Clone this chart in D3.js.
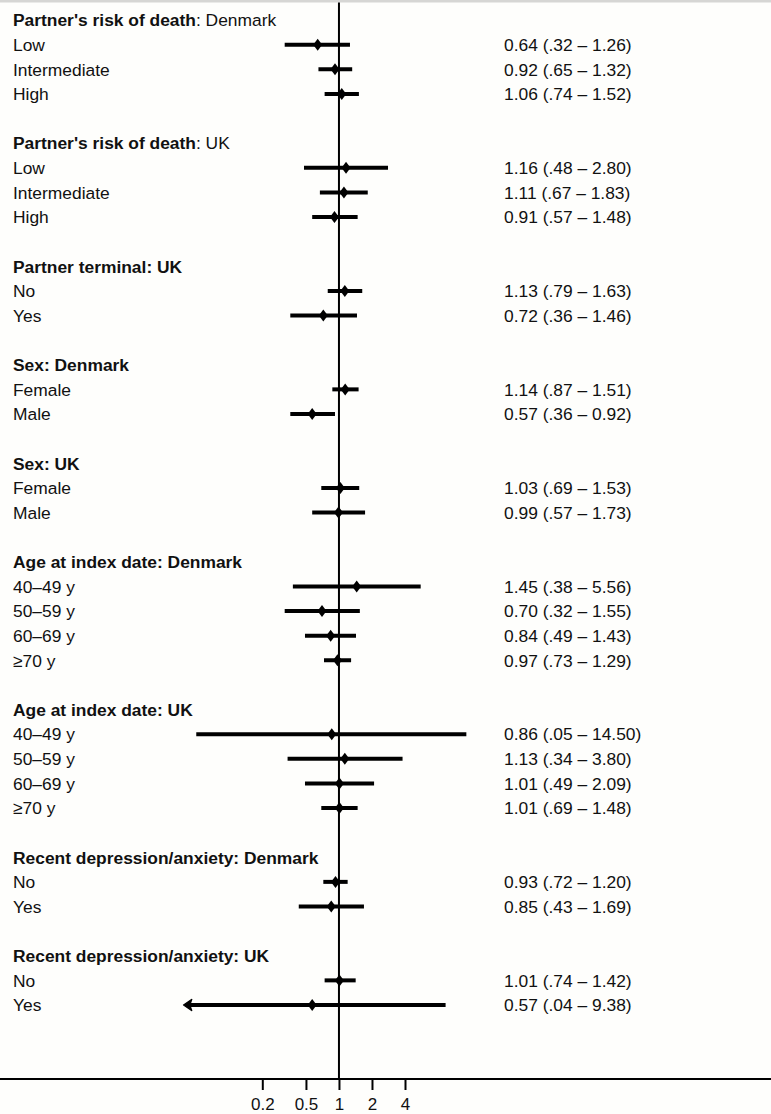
<!DOCTYPE html>
<html><head><meta charset="utf-8">
<script src="https://cdn.jsdelivr.net/npm/d3@7"></script>
<style>
html,body{margin:0;padding:0;background:#fefefc;}
svg{display:block;}
text{font-family:"Liberation Sans",Arial,Helvetica,sans-serif;font-size:17.4px;fill:#111;}
</style></head>
<body>
<svg id="c" width="771" height="1114"></svg>
<script>
// Groups: header (bold part, regular part)
const groupBold = ["Partner's risk of death","Partner's risk of death","Partner terminal: UK","Sex: Denmark","Sex: UK","Age at index date: Denmark","Age at index date: UK","Recent depression/anxiety: Denmark","Recent depression/anxiety: UK"];
const groupRegular = [": Denmark",": UK","","","","","","",""];
const rowLabels = [
  ["Low","Intermediate","High"],
  ["Low","Intermediate","High"],
  ["No","Yes"],
  ["Female","Male"],
  ["Female","Male"],
  ["40–49 y","50–59 y","60–69 y","≥70 y"],
  ["40–49 y","50–59 y","60–69 y","≥70 y"],
  ["No","Yes"],
  ["No","Yes"]
];
const estimates = [
  [0.64,0.92,1.06],
  [1.16,1.11,0.91],
  [1.13,0.72],
  [1.14,0.57],
  [1.03,0.99],
  [1.45,0.70,0.84,0.97],
  [0.86,1.13,1.01,1.01],
  [0.93,0.85],
  [1.01,0.57]
];
const lowerCI = [
  [0.32,0.65,0.74],
  [0.48,0.67,0.57],
  [0.79,0.36],
  [0.87,0.36],
  [0.69,0.57],
  [0.38,0.32,0.49,0.73],
  [0.05,0.34,0.49,0.69],
  [0.72,0.43],
  [0.74,0.04]
];
const upperCI = [
  [1.26,1.32,1.52],
  [2.80,1.83,1.48],
  [1.63,1.46],
  [1.51,0.92],
  [1.53,1.73],
  [5.56,1.55,1.43,1.29],
  [14.50,3.80,2.09,1.48],
  [1.20,1.69],
  [1.42,9.38]
];
const ciText = [
  ["0.64 (.32 – 1.26)","0.92 (.65 – 1.32)","1.06 (.74 – 1.52)"],
  ["1.16 (.48 – 2.80)","1.11 (.67 – 1.83)","0.91 (.57 – 1.48)"],
  ["1.13 (.79 – 1.63)","0.72 (.36 – 1.46)"],
  ["1.14 (.87 – 1.51)","0.57 (.36 – 0.92)"],
  ["1.03 (.69 – 1.53)","0.99 (.57 – 1.73)"],
  ["1.45 (.38 – 5.56)","0.70 (.32 – 1.55)","0.84 (.49 – 1.43)","0.97 (.73 – 1.29)"],
  ["0.86 (.05 – 14.50)","1.13 (.34 – 3.80)","1.01 (.49 – 2.09)","1.01 (.69 – 1.48)"],
  ["0.93 (.72 – 1.20)","0.85 (.43 – 1.69)"],
  ["1.01 (.74 – 1.42)","0.57 (.04 – 9.38)"]
];
// arrow flags: lower CI truncated with arrow
const arrowLeft = [[0,0,0],[0,0,0],[0,0],[0,0],[0,0],[0,0,0,0],[0,0,0,0],[0,0],[0,1]];
const tickValues = [0.2,0.5,1,2,4];
const tickLabels = ["0.2","0.5","1","2","4"];

// Build row list
const rows = [];
let idx = 0;
groupBold.forEach((g,gi)=>{
  rows.push({type:"header",bold:g,reg:groupRegular[gi],i:idx++});
  rowLabels[gi].forEach((l,ri)=>{
    rows.push({type:"row",label:l,est:estimates[gi][ri],lo:lowerCI[gi][ri],hi:upperCI[gi][ri],txt:ciText[gi][ri],arrow:arrowLeft[gi][ri],i:idx++});
  });
  idx++; // blank
});

const svg = d3.select("#c");
const W = 771, H = 1114;
// top grey strip
svg.append("rect").attr("x",0).attr("y",0).attr("width",W).attr("height",2.5).attr("fill","#d6d6d4");

const x = d3.scaleLog().domain([0.2,4]).range([262.3,405]);
const y = d3.scaleLinear().domain([0,40]).range([20,1005]);
const axisY = 1079;

// reference vertical line at 1
svg.append("line").attr("x1",x(1)).attr("x2",x(1)).attr("y1",2.5).attr("y2",axisY)
  .attr("stroke","#000").attr("stroke-width",2);

// axis
const axis = d3.axisBottom(x).tickValues(tickValues).tickFormat((d,i)=>tickLabels[i]).tickSize(11).tickSizeOuter(0);
const ag = svg.append("g").attr("transform",`translate(0,${axisY})`).call(axis);
ag.select(".domain").remove();
ag.selectAll(".tick line").attr("stroke","#000").attr("stroke-width",2);
ag.selectAll(".tick text").attr("dy","0").attr("y",31).style("font-size","17px").style("font-family","'Liberation Sans',Arial,sans-serif").attr("fill","#111");
svg.append("line").attr("x1",0).attr("x2",W).attr("y1",axisY).attr("y2",axisY).attr("stroke","#000").attr("stroke-width",2.2);

// headers
rows.filter(r=>r.type==="header").forEach(r=>{
  const t = svg.append("text").attr("x",13).attr("y",y(r.i)).attr("dy","0.36em");
  t.append("tspan").attr("font-weight","bold").text(r.bold);
  if (r.reg) t.append("tspan").text(r.reg);
});
const dr = rows.filter(r=>r.type==="row");
svg.selectAll("text.lab").data(dr).enter().append("text").attr("class","lab")
  .attr("x",13).attr("y",d=>y(d.i)).attr("dy","0.36em").text(d=>d.label);
svg.selectAll("text.ci").data(dr).enter().append("text").attr("class","ci")
  .attr("x",504).attr("y",d=>y(d.i)).attr("dy","0.36em").text(d=>d.txt);

// CI lines
svg.selectAll("line.ci").data(dr).enter().append("line").attr("class","ci")
  .attr("x1",d=>x(d.lo)+(d.arrow?2:0)).attr("x2",d=>x(d.hi))
  .attr("y1",d=>y(d.i)).attr("y2",d=>y(d.i))
  .attr("stroke","#000").attr("stroke-width",4);
// arrows
dr.filter(d=>d.arrow).forEach(d=>{
  const ax = x(d.lo)-2, ay = y(d.i);
  svg.append("path").attr("d",`M${ax},${ay} L${ax+8},${ay-5.5} L${ax+6},${ay} L${ax+8},${ay+5.5} Z`)
    .attr("fill","#000").attr("stroke","#000").attr("stroke-width",1.5).attr("stroke-linejoin","round");
});
// diamonds
svg.selectAll("path.pt").data(dr).enter().append("path").attr("class","pt")
  .attr("d",d=>{const cx=x(d.est),cy=y(d.i);return `M${cx},${cy-6} L${cx+4.5},${cy} L${cx},${cy+6} L${cx-4.5},${cy} Z`;})
  .attr("fill","#000");
</script>
</body></html>
